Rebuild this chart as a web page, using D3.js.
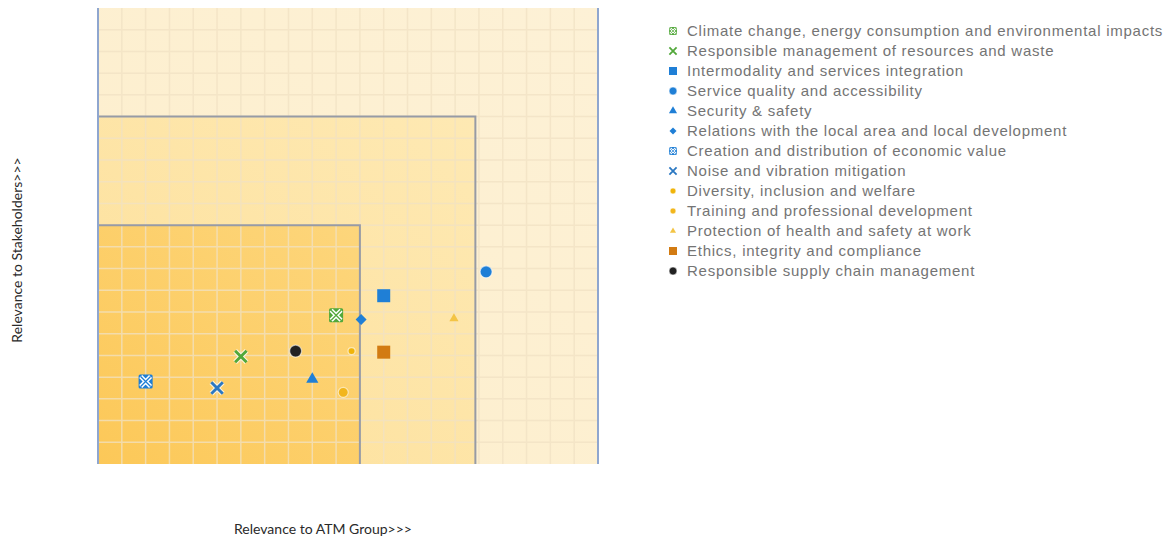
<!DOCTYPE html>
<html>
<head>
<meta charset="utf-8">
<script src="https://cdn.jsdelivr.net/npm/d3@7"></script>
<style>
  html, body { margin: 0; padding: 0; background: #fff; }
  #app { width: 1170px; height: 539px; }
</style>
</head>
<body>
<div id="app"></div>
<script>
;(()=>{

    // materiality topics, in legend order
    const topics = [
        'Climate change, energy consumption and environmental impacts',
        'Responsible management of resources and waste',
        'Intermodality and services integration',
        'Service quality and accessibility',
        'Security & safety',
        'Relations with the local area and local development',
        'Creation and distribution of economic value',
        'Noise and vibration mitigation',
        'Diversity, inclusion and welfare',
        'Training and professional development',
        'Protection of health and safety at work',
        'Ethics, integrity and compliance',
        'Responsible supply chain management'
    ]

    // relevance to ATM Group (x) and to stakeholders (y), grid units
    const atmRelevance = [10.0, 6.0, 12.0, 16.3, 9.0, 11.05, 2.0, 5.0, 10.65, 10.3, 14.95, 12.0, 8.3]
    const stakeholderRelevance = [6.85, 4.95, 7.75, 8.85, 3.9, 6.65, 3.8, 3.5, 5.2, 3.3, 6.7, 5.15, 5.2]

    // nested relevance zones (outer, middle, inner)
    const zoneX = [21, 15.85, 11]
    const zoneY = [21, 16, 11]

    const gridMax = 21

    // marker look per topic (same order as topics)
    const blue = '#1f7fd6', green = '#52a83a', yellow = '#f2b61c'
    const markerStyle = [
        {shape: 'boxx', color: green},
        {shape: 'x', color: green},
        {shape: 'square', color: blue},
        {shape: 'circle', color: blue},
        {shape: 'triangle', color: blue},
        {shape: 'diamond', color: blue},
        {shape: 'boxx', color: blue},
        {shape: 'x', color: '#2b78c2'},
        {shape: 'dot', color: '#f0b40a'},
        {shape: 'circle', color: yellow},
        {shape: 'triangle', color: '#f3c445'},
        {shape: 'square', color: '#d27b12'},
        {shape: 'circle', color: '#222222'}
    ]
    const markerSize = [18, 16, 13, 12, 12, 11, 18, 16, 7, 10, 9, 13, 12]
    const legendSize = [10, 10, 8, 8, 8, 7, 10, 10, 6, 6, 6, 8, 8]

    const width = 1170
    const height = 539

    const x_scale = d3.scaleLinear().domain([0, gridMax]).range([98, 598])
    const y_scale = d3.scaleLinear().domain([0, gridMax]).range([464, 8])

    const svg = d3.create('svg')
        .attr('viewBox', [0, 0, width, height])
        .attr('width', width)
        .attr('height', height)
        .style('font-family', 'Liberation Sans, Arial, sans-serif')

    const defs = svg.append('defs')
    const grads = [
        {id: 'g-outer', stops: ['#fdf1d6', '#fdeecb']},
        {id: 'g-mid', stops: ['#fee9b3', '#fde09a']},
        {id: 'g-inner', stops: ['#fdd67c', '#fcc858']}
    ]
    grads.forEach(g => {
        const lg = defs.append('linearGradient')
            .attr('id', g.id)
            .attr('x1', 1).attr('y1', 0).attr('x2', 0).attr('y2', 1)
        lg.append('stop').attr('offset', '0%').attr('stop-color', g.stops[0])
        lg.append('stop').attr('offset', '100%').attr('stop-color', g.stops[1])
    })

    // zones
    svg.append('g')
        .selectAll('rect')
        .data(zoneX.map((d, i) => ({x: d, y: zoneY[i], i})))
        .join('rect')
        .attr('x', x_scale(0))
        .attr('y', d => y_scale(d.y))
        .attr('width', d => x_scale(d.x) - x_scale(0))
        .attr('height', d => y_scale(0) - y_scale(d.y))
        .attr('fill', d => `url(#${grads[d.i].id})`)

    // grid
    const ticks = d3.range(1, gridMax)
    const grid = svg.append('g')
        .attr('stroke', '#f1e2c4')
        .attr('stroke-width', 1.5)
        .style('opacity', 0.75)
    grid.selectAll('.v')
        .data(ticks)
        .join('line')
        .attr('class', 'v')
        .attr('x1', d => x_scale(d)).attr('x2', d => x_scale(d))
        .attr('y1', y_scale(gridMax)).attr('y2', y_scale(0))
    grid.selectAll('.h')
        .data(ticks)
        .join('line')
        .attr('class', 'h')
        .attr('y1', d => y_scale(d)).attr('y2', d => y_scale(d))
        .attr('x1', x_scale(0)).attr('x2', x_scale(gridMax))

    // zone borders (inner two)
    svg.append('g')
        .selectAll('path')
        .data(zoneX.slice(1).map((d, i) => ({x: d, y: zoneY[i + 1]})))
        .join('path')
        .attr('d', d => `M${x_scale(0)},${y_scale(d.y)}H${x_scale(d.x)}V${y_scale(0)}`)
        .attr('fill', 'none')
        .attr('stroke', '#979ba5')
        .attr('stroke-width', 2)

    // outer side borders
    svg.append('g')
        .selectAll('line')
        .data([0, gridMax])
        .join('line')
        .attr('x1', d => x_scale(d)).attr('x2', d => x_scale(d))
        .attr('y1', y_scale(gridMax)).attr('y2', y_scale(0))
        .attr('stroke', '#8fa6cf')
        .attr('stroke-width', 2)

    const drawMarker = (g, style, s) => {
        const h = s / 2
        const c = style.color
        if (style.shape === 'circle' || style.shape === 'dot') {
            g.append('circle').attr('r', h).attr('fill', c)
                .attr('stroke', 'rgba(255,255,255,0.6)').attr('stroke-width', 1.2)
        } else if (style.shape === 'square') {
            g.append('rect').attr('x', -h).attr('y', -h).attr('width', s).attr('height', s).attr('fill', c)
        } else if (style.shape === 'triangle') {
            g.append('path').attr('d', d3.symbol(d3.symbolTriangle, s * s * 0.45)).attr('fill', c)
        } else if (style.shape === 'diamond') {
            g.append('path').attr('d', `M0,${-h}L${h},0L0,${h}L${-h},0Z`).attr('fill', c)
        } else if (style.shape === 'x') {
            const k = h * 0.72
            const xp = `M${-k},${-k}L${k},${k}M${-k},${k}L${k},${-k}`
            g.append('path').attr('d', xp).attr('stroke', 'rgba(255,255,255,0.75)').attr('stroke-width', s * 0.32)
            g.append('path').attr('d', xp).attr('stroke', c).attr('stroke-width', s * 0.18)
        } else if (style.shape === 'boxx') {
            const b = h * 0.78
            g.append('rect').attr('x', -b).attr('y', -b).attr('width', b * 2).attr('height', b * 2)
                .attr('fill', c).attr('rx', 1.5)
            const k = h * 0.55
            const xp = `M${-k},${-k}L${k},${k}M${-k},${k}L${k},${-k}`
            g.append('path').attr('d', xp).attr('stroke', '#ffffff').attr('stroke-width', s * 0.24)
            g.append('path').attr('d', xp).attr('stroke', c).attr('stroke-width', s * 0.07)
        }
    }

    // points
    svg.append('g')
        .selectAll('g')
        .data(topics.map((t, i) => ({t, x: atmRelevance[i], y: stakeholderRelevance[i], i})))
        .join('g')
        .attr('transform', d => `translate(${x_scale(d.x)},${y_scale(d.y)})`)
        .each(function(d) { drawMarker(d3.select(this), markerStyle[d.i], markerSize[d.i]) })

    // legend
    const legend = svg.append('g').attr('transform', 'translate(673, 31)')
    const rows = legend.selectAll('g')
        .data(topics)
        .join('g')
        .attr('transform', (d, i) => `translate(0, ${i * 20})`)
    rows.each(function(d, i) {
        drawMarker(d3.select(this), markerStyle[i], legendSize[i])
    })
    rows.append('text')
        .attr('x', 14)
        .attr('y', 5)
        .attr('fill', '#747474')
        .style('font-size', '15px')
        .style('letter-spacing', '0.75px')
        .text(d => d)

    // axis titles
    svg.append('text')
        .attr('transform', `translate(22, 250) rotate(-90)`)
        .attr('text-anchor', 'middle')
        .attr('fill', '#2a2a2a')
        .style('font-family', 'Lato, sans-serif')
        .style('font-size', '14px')
        .text('Relevance to Stakeholders>>>')

    svg.append('text')
        .attr('x', 323)
        .attr('y', 534)
        .attr('text-anchor', 'middle')
        .attr('fill', '#2a2a2a')
        .style('font-family', 'Lato, sans-serif')
        .style('font-size', '14px')
        .text('Relevance to ATM Group>>>')

    d3.select('#app').append(() => svg.node())

})()
</script>
</body>
</html>
